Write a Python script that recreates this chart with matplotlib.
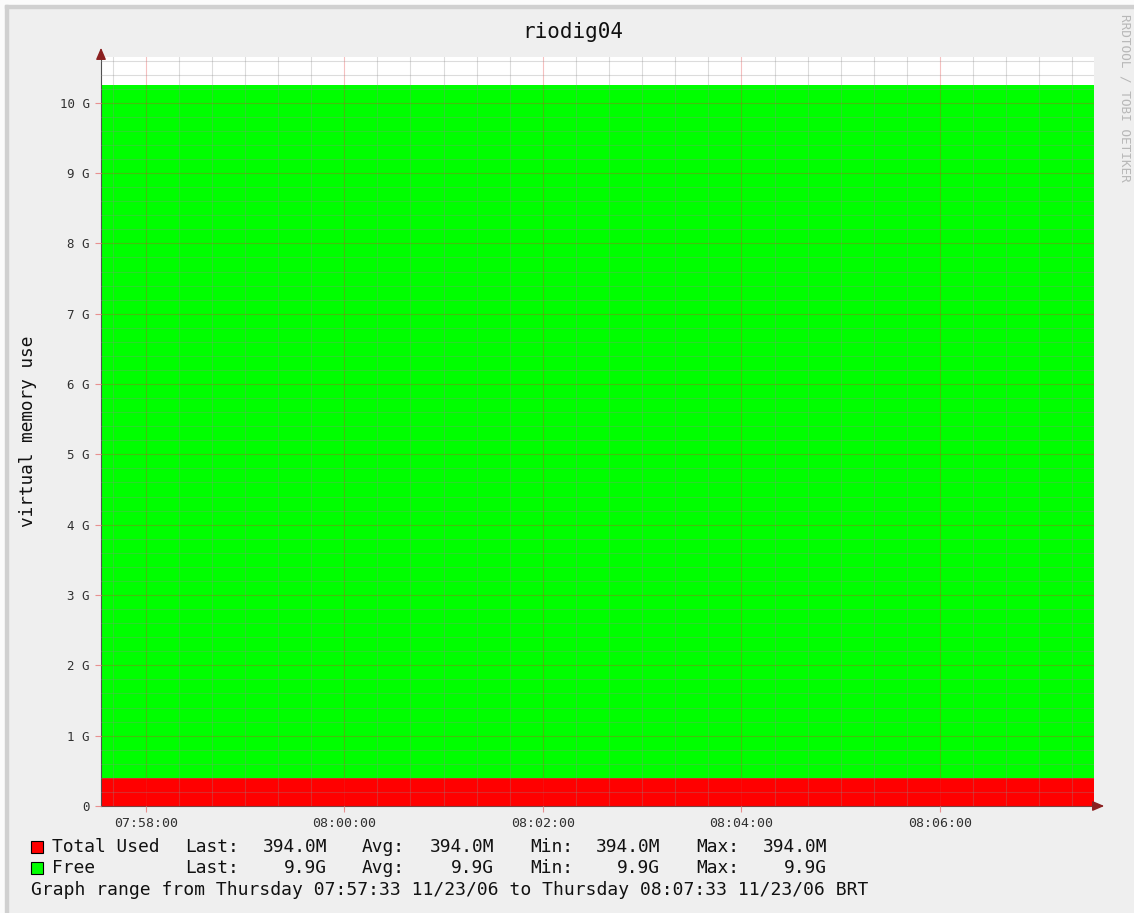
import datetime as dt

import matplotlib
matplotlib.use('Agg')
import matplotlib.pyplot as plt
import matplotlib.dates as mdates
from matplotlib.patches import Rectangle
from matplotlib.ticker import MultipleLocator, FuncFormatter

# samples (one per minute) over the graph range
sample_times = ['07:57:33', '07:58:33', '07:59:33', '08:00:33', '08:01:33',
                '08:02:33', '08:03:33', '08:04:33', '08:05:33', '08:06:33',
                '08:07:33']
total_used = [394.0e6, 394.0e6, 394.0e6, 394.0e6, 394.0e6, 394.0e6,
              394.0e6, 394.0e6, 394.0e6, 394.0e6, 394.0e6]
free = [9.86e9, 9.86e9, 9.86e9, 9.86e9, 9.86e9, 9.86e9,
        9.86e9, 9.86e9, 9.86e9, 9.86e9, 9.86e9]

legend_rows = [
    ('Total Used', '#ff0000', ['394.0M', '394.0M', '394.0M', '394.0M']),
    ('Free', '#00ff00', ['9.9G', '9.9G', '9.9G', '9.9G']),
]
stat_names = ['Last:', 'Avg:', 'Min:', 'Max:']
range_text = ('Graph range from Thursday 07:57:33 11/23/06 '
              'to Thursday 08:07:33 11/23/06 BRT')

W, H = 1134, 913
MONO = 'DejaVu Sans Mono'
LEG_FS = 12.9


def fx(x):
    return x / W


def fy(y):
    return 1 - y / H


def to_dt(s):
    h, m, sec = [int(v) for v in s.split(':')]
    return dt.datetime(2006, 11, 23, h, m, sec)


x = [to_dt(t) for t in sample_times]
stack_top = [u + f for u, f in zip(total_used, free)]

fig = plt.figure(figsize=(W / 100, H / 100), dpi=100, facecolor='#efefef')

# screenshot frame
fig.patches.append(Rectangle((0, fy(5)), 1, 1 - fy(5), transform=fig.transFigure,
                             color='#fbfbfb', zorder=0))
fig.patches.append(Rectangle((0, 0), fx(5), 1, transform=fig.transFigure,
                             color='#fbfbfb', zorder=0))
fig.patches.append(Rectangle((fx(5), fy(8)), 1, fy(5) - fy(8),
                             transform=fig.transFigure, color='#d0d0d0', zorder=1))
fig.patches.append(Rectangle((fx(5), 0), fx(3), fy(5),
                             transform=fig.transFigure, color='#d0d0d0', zorder=1))

ax = fig.add_axes([fx(101), fy(806), fx(1094) - fx(101), fy(57) - fy(806)])
ax.set_facecolor('white')

ax.fill_between(x, 0, total_used, color='#ff0000', linewidth=0, zorder=1)
ax.fill_between(x, total_used, stack_top, color='#00ff00', linewidth=0, zorder=1)

ax.set_xlim(x[0], x[-1])
ax.set_ylim(0, 10.65e9)

ax.xaxis.set_major_locator(mdates.MinuteLocator(byminute=range(0, 60, 2)))
ax.xaxis.set_major_formatter(mdates.DateFormatter('%H:%M:%S'))
ax.xaxis.set_minor_locator(mdates.SecondLocator(bysecond=[0, 20, 40]))
ax.yaxis.set_major_locator(MultipleLocator(1e9))
ax.yaxis.set_minor_locator(MultipleLocator(0.2e9))
ax.yaxis.set_major_formatter(
    FuncFormatter(lambda v, p: '0' if v == 0 else '%d G' % round(v / 1e9)))

ax.grid(which='minor', color='#8c8c8c', alpha=0.3, linewidth=0.8, zorder=2)
ax.grid(which='major', color='#e03030', alpha=0.3, linewidth=0.8, zorder=2)
ax.set_axisbelow(False)

ax.tick_params(which='minor', length=0)
ax.tick_params(axis='x', which='major', length=4, pad=4, color='#e89090',
               labelsize=9.5, labelcolor='#303030')
ax.tick_params(axis='y', which='major', length=4, pad=4, color='#e89090',
               labelsize=9, labelcolor='#303030')
for lab in ax.get_xticklabels() + ax.get_yticklabels():
    lab.set_fontfamily(MONO)

for side in ['top', 'right']:
    ax.spines[side].set_visible(False)
ax.spines['left'].set_color('#505050')
ax.spines['bottom'].set_color('#7a4040')

# axis arrows
ax.annotate('', xy=(fx(1107), fy(806)), xytext=(fx(1094), fy(806)),
            xycoords='figure fraction', textcoords='figure fraction',
            arrowprops=dict(arrowstyle='-|>,head_length=0.7,head_width=0.3',
                            color='#8b2020', lw=1.0))
ax.annotate('', xy=(fx(101), fy(45)), xytext=(fx(101), fy(57)),
            xycoords='figure fraction', textcoords='figure fraction',
            arrowprops=dict(arrowstyle='-|>,head_length=0.7,head_width=0.3',
                            color='#8b2020', lw=1.0))

fig.text(fx(573), fy(32), 'riodig04', family=MONO, fontsize=15,
         ha='center', va='center', color='#111111')
fig.text(fx(28), fy(431), 'virtual memory use', family=MONO, fontsize=12.8,
         rotation=90, ha='center', va='center', color='#111111')
fig.text(fx(1125), fy(14), 'RRDTOOL / TOBI OETIKER', family=MONO, fontsize=9.2,
         rotation=-90, ha='center', va='top', color='#b8b8b8')

# legend
row_y = [847, 868]
stat_x = [185, 362, 530, 696]
value_right = [327, 494, 660, 827]
for (name, color, values), yy in zip(legend_rows, row_y):
    fig.patches.append(Rectangle((fx(31), fy(yy + 6)), fx(12), fy(0) - fy(12),
                                 transform=fig.transFigure, facecolor=color,
                                 edgecolor='black', linewidth=0.8))
    fig.text(fx(52), fy(yy), name, family=MONO, fontsize=LEG_FS,
             va='center', color='#111111')
    for sname, sx, val, vx in zip(stat_names, stat_x, values, value_right):
        fig.text(fx(sx), fy(yy), sname, family=MONO, fontsize=LEG_FS,
                 va='center', color='#111111')
        fig.text(fx(vx), fy(yy), val, family=MONO, fontsize=LEG_FS,
                 va='center', ha='right', color='#111111')

fig.text(fx(31), fy(890), range_text, family=MONO, fontsize=13.0,
         va='center', color='#111111')

fig.savefig('out.png', dpi=100, facecolor=fig.get_facecolor())
